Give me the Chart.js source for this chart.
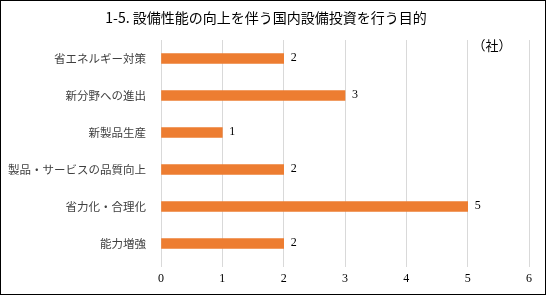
<!DOCTYPE html>
<html>
<head>
<meta charset="utf-8">
<script src="https://cdn.jsdelivr.net/npm/chart.js@4/dist/chart.umd.min.js"></script>
<style>
  body { margin: 0; background: #fff; }
  canvas { display: block; }
</style>
</head>
<body>
<canvas id="chart-purpose" width="546" height="295"></canvas>
<script>
const titleText = "1-5. 設備性能の向上を伴う国内設備投資を行う目的"
const unitText = "（社）"
const categories = ["省エネルギー対策", "新分野への進出", "新製品生産", "製品・サービスの品質向上", "省力化・合理化", "能力増強"]
const companies = [2, 3, 1, 2, 5, 2]
const xTicks = [0, 1, 2, 3, 4, 5, 6]

const jpFont = "'Noto Sans CJK JP', sans-serif"
const numFont = "'Liberation Serif', serif"

// frame, title, unit label and value labels
const decorations = {
  id: "decorations",
  beforeDraw(chart) {
    const ctx = chart.ctx
    ctx.save()
    ctx.fillStyle = "#fff"
    ctx.fillRect(0, 0, chart.width, chart.height)
    ctx.restore()
  },
  afterDraw(chart) {
    const ctx = chart.ctx
    ctx.save()
    ctx.strokeStyle = "#000"
    ctx.lineWidth = 1
    ctx.strokeRect(0.5, 0.5, chart.width - 1, chart.height - 1)

    ctx.fillStyle = "#000"
    ctx.font = "14px " + jpFont
    ctx.textAlign = "center"
    ctx.textBaseline = "middle"
    ctx.fillText(titleText, 266, 18)

    ctx.font = "13px " + jpFont
    ctx.fillText(unitText, 492, 45)

    ctx.font = "12px " + numFont
    ctx.textAlign = "left"
    const meta = chart.getDatasetMeta(0)
    meta.data.forEach((bar, i) => {
      ctx.fillText(String(companies[i]), bar.x + 7, bar.y - 1)
    })
    ctx.restore()
  }
}

new Chart(document.getElementById("chart-purpose"), {
  type: "bar",
  data: {
    labels: categories,
    datasets: [{
      data: companies,
      backgroundColor: "#ED7D31",
      barThickness: 10
    }]
  },
  options: {
    indexAxis: "y",
    responsive: false,
    animation: false,
    layout: { padding: { top: 40, right: 17, left: 0, bottom: 0 } },
    plugins: {
      legend: { display: false },
      tooltip: { enabled: false }
    },
    scales: {
      x: {
        min: 0,
        max: 6,
        afterBuildTicks: axis => { axis.ticks = xTicks.map(v => ({ value: v })) },
        grid: { color: "#D9D9D9", drawTicks: true, tickLength: 5 },
        border: { display: false },
        ticks: { color: "#000", font: { family: numFont, size: 12 }, padding: 5 },
        afterFit: axis => { axis.height = 33 }
      },
      y: {
        grid: { display: false, drawTicks: false },
        border: { display: false },
        ticks: { color: "#404040", font: { family: jpFont, size: 11.5 }, padding: 15 },
        afterFit: axis => { axis.width = 161 }
      }
    }
  },
  plugins: [decorations]
})
</script>
</body>
</html>
